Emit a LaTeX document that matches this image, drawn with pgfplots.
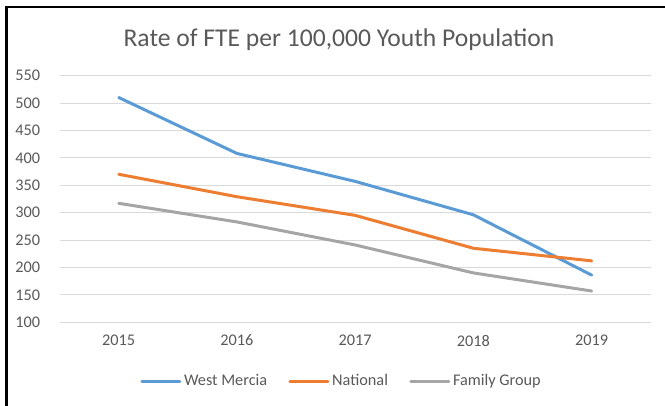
\documentclass[border=0pt]{standalone}
\usepackage{pgfplots}
\pgfplotsset{compat=1.18}
\usepackage{fontspec}
\setmainfont{Carlito}
\definecolor{wm}{HTML}{5B9BD5}
\definecolor{nat}{HTML}{ED7D31}
\definecolor{fg}{HTML}{A5A5A5}
\definecolor{txt}{HTML}{595959}
\definecolor{gridc}{HTML}{D9D9D9}
\begin{document}
\begin{tikzpicture}[x=0.75pt,y=0.75pt]
\useasboundingbox (0,0) rectangle (665,406);
\draw[black, line width=1.6pt] (6.5,-10) -- (6.5,399) -- (675,399);
\node[text=txt, font=\fontsize{19.2pt}{22pt}\selectfont, anchor=center] at (339,366) {Rate of FTE per 100,000 Youth Population};
\begin{axis}[
  at={(44.7pt,62.8pt)}, anchor=south west,
  width=443.4pt, height=185pt, scale only axis,
  xmin=-0.5, xmax=4.5, ymin=100, ymax=550,
  xtick={0,1,2,3,4}, xticklabels={2015,2016,2017,2018,2019},
  ytick={100,150,...,550},
  axis line style={draw=none}, tick style={draw=none},
  xmajorgrids=false, ymajorgrids=true, grid style={draw=gridc, line width=0.75pt},
  /pgf/number format/assume math mode=true,
  ticklabel style={text=txt, font=\fontsize{12.2pt}{14pt}\selectfont},
  yticklabel style={anchor=east, xshift=-11pt},
  xticklabel style={yshift=-6pt},
  legend columns=3,
  legend style={draw=none, fill=none, at={(0.5,-0.2)}, anchor=north, xshift=-10pt,
    font=\fontsize{12.2pt}{14pt}\selectfont, text=txt,
    /tikz/every even column/.append style={column sep=14pt},
    inner sep=0pt},
  legend image code/.code={\draw[#1, line width=2.25pt] (0,0) -- (28.5pt,0);},
  every axis plot/.append style={line width=2.25pt, line join=round, line cap=round},
]
\addplot[wm] coordinates {(0,510) (1,408) (2,357) (3,296) (4,186)};
\addlegendentry{West Mercia}
\addplot[nat] coordinates {(0,370) (1,329) (2,295) (3,235) (4,212)};
\addlegendentry{National}
\addplot[fg] coordinates {(0,317) (1,283) (2,241) (3,190) (4,157)};
\addlegendentry{Family Group}
\end{axis}
\end{tikzpicture}
\end{document}
